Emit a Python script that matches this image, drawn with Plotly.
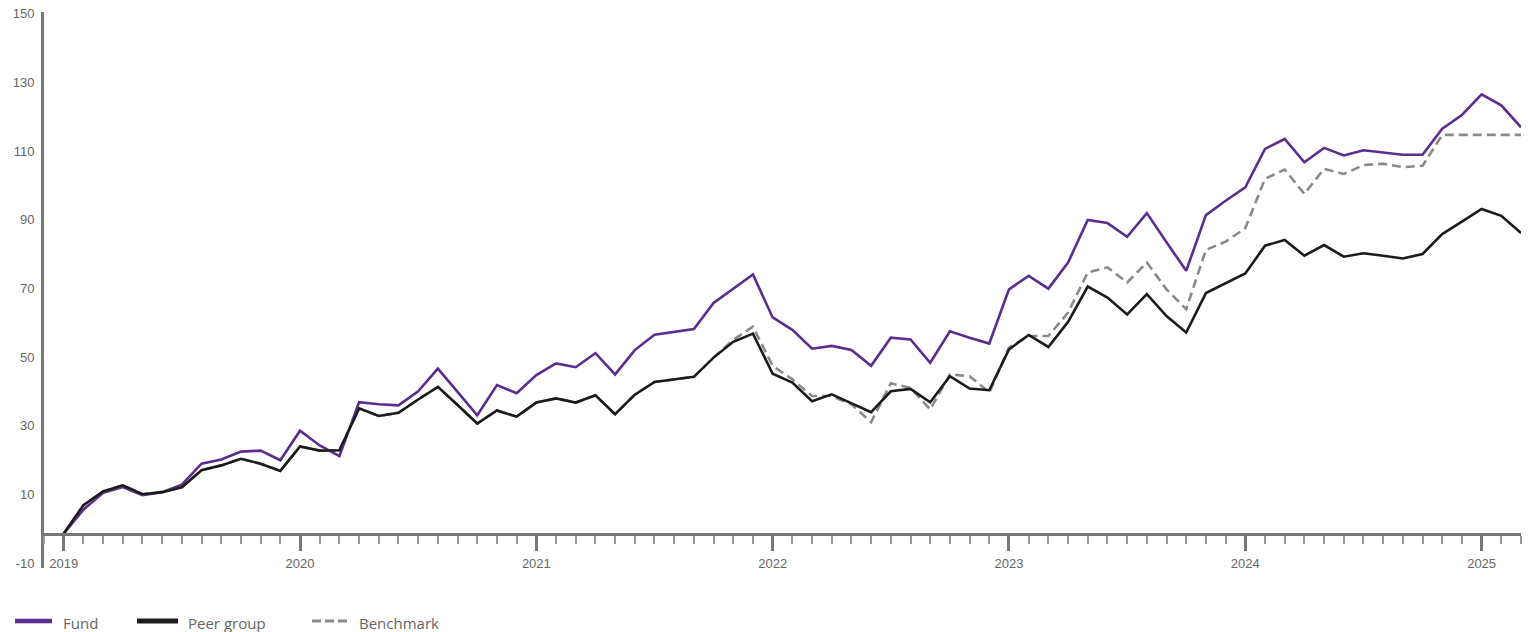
import plotly.graph_objects as go

# ---- data (monthly, Jan 2019 .. Mar 2025) ----
years = ["2019", "2020", "2021", "2022", "2023", "2024", "2025"]

fund = [0, 7.0, 11.9, 13.6, 11.2, 12.1, 14.3, 20.4, 21.6, 23.9, 24.2, 21.4,
        30.0, 25.7, 22.6, 38.3, 37.7, 37.4, 41.5, 48.1, 41.3, 34.5, 43.3, 40.9,
        46.2, 49.6, 48.5, 52.6, 46.4, 53.5, 58.0, 58.8, 59.6, 67.2, 71.4, 75.5,
        63.0, 59.4, 53.9, 54.7, 53.5, 48.9, 57.1, 56.6, 49.8, 59.0, 57.1, 55.4,
        71.2, 75.1, 71.4, 79.0, 91.4, 90.5, 86.5, 93.4, 84.9, 76.6, 92.8, 97.0,
        100.9, 112.1, 115.0, 108.2, 112.4, 110.2, 111.7, 111.1, 110.4, 110.4, 118.0, 122.0,
        128.0, 124.8, 118.4]

peer = [0, 8.3, 12.3, 14.1, 11.5, 12.1, 13.5, 18.5, 19.9, 21.8, 20.4, 18.3,
        25.4, 24.2, 24.3, 36.5, 34.3, 35.2, 39.1, 42.8, 37.5, 32.1, 35.9, 34.1,
        38.2, 39.4, 38.2, 40.3, 34.8, 40.5, 44.2, 45.0, 45.7, 51.3, 55.9, 58.3,
        46.6, 44.0, 38.6, 40.6, 38.0, 35.4, 41.5, 42.2, 38.3, 45.9, 42.3, 41.8,
        53.7, 57.9, 54.4, 61.7, 72.0, 68.8, 63.9, 69.8, 63.4, 58.6, 70.1, 73.0,
        75.8, 83.9, 85.6, 81.0, 84.1, 80.7, 81.7, 81.0, 80.2, 81.5, 87.3, 90.9,
        94.6, 92.6, 87.6]

benchmark = [0, 8.3, 12.3, 14.1, 11.5, 12.1, 13.5, 18.5, 19.9, 21.8, 20.4, 18.3,
             25.4, 24.2, 24.3, 36.5, 34.3, 35.2, 39.1, 42.8, 37.5, 32.1, 35.9, 34.1,
             38.2, 39.4, 38.2, 40.3, 34.8, 40.5, 44.2, 45.0, 45.7, 51.3, 56.5, 60.3,
             48.9, 45.0, 40.1, 40.1, 37.7, 32.5, 43.8, 42.5, 36.2, 46.4, 45.9, 41.1,
             54.2, 57.6, 57.6, 64.4, 76.1, 77.6, 73.2, 79.0, 71.2, 65.4, 82.7, 85.1,
             89.0, 103.4, 106.1, 99.0, 106.3, 104.8, 107.4, 107.8, 106.8, 107.2, 116.2, 116.2,
             116.2, 116.2, 116.2]

y_ticks = [-10, 10, 30, 50, 70, 90, 110, 130, 150]

# ---- styling ----
PURPLE = "#5b2d8e"
BLACK = "#1b1b1b"
GREY = "#8a8a8a"
AXIS = "#777777"
TXT = "#666666"

W, H = 1528, 632
ML, MR, MT, MB = 44, 7, 12, 64
PW, PH = W - ML - MR, H - MT - MB

x = list(range(len(fund)))
YMIN, YMAX = -10, 152

fig = go.Figure()
fig.add_trace(go.Scatter(x=x, y=fund, mode="lines", name="Fund",
                         line=dict(color=PURPLE, width=2.6), showlegend=False))
fig.add_trace(go.Scatter(x=x, y=benchmark, mode="lines", name="Benchmark",
                         line=dict(color=GREY, width=2.6, dash="9px,5px"), showlegend=False))
fig.add_trace(go.Scatter(x=x, y=peer, mode="lines", name="Peer group",
                         line=dict(color=BLACK, width=2.6), showlegend=False))

fig.update_layout(
    width=W, height=H,
    margin=dict(l=ML, r=MR, t=MT, b=MB, pad=0),
    paper_bgcolor="white", plot_bgcolor="white",
    font=dict(family="Liberation Sans, Arial, sans-serif", size=13, color=TXT),
    xaxis=dict(
        range=[-1, len(fund) - 1],
        anchor="free", position=(0 - YMIN) / (YMAX - YMIN),
        showgrid=False, zeroline=False,
        showline=True, linecolor=AXIS, linewidth=3,
        ticks="outside", tickmode="array",
        tickvals=[12 * k for k in range(len(years))], ticktext=years,
        ticklen=15, tickwidth=3, tickcolor=AXIS,
        ticklabelstandoff=2,
        tickfont=dict(size=13, color=TXT),
        minor=dict(tickmode="linear", tick0=0, dtick=1, ticks="outside",
                   ticklen=8, tickwidth=1.5, tickcolor="#9a9a9a", showgrid=False),
    ),
    yaxis=dict(
        range=[YMIN, YMAX],
        showgrid=False, zeroline=False,
        showline=True, linecolor=AXIS, linewidth=3,
        tickmode="array", tickvals=y_ticks, ticktext=[str(v) for v in y_ticks],
        ticks="", ticklabelstandoff=4, ticklabelshift=-5,
        tickfont=dict(size=13, color=TXT),
    ),
)

# ---- manual legend below the plot ----
def px(v):
    return (v - ML) / PW

def py(v):
    return (H - MB - v) / PH

legend_items = [
    ("Fund", PURPLE, "solid", 4.5, 15, 52, 61),
    ("Peer group", BLACK, "solid", 5, 137, 178, 186),
    ("Benchmark", GREY, "9px,4px", 3, 312, 348, 357),
]
for name, col, dash, wid, x0, x1, xt in legend_items:
    fig.add_shape(type="line", xref="paper", yref="paper",
                  x0=px(x0), x1=px(x1), y0=py(621), y1=py(621),
                  line=dict(color=col, width=wid, dash=dash))
    fig.add_annotation(xref="paper", yref="paper", x=px(xt), y=py(623),
                       text=name, showarrow=False, xanchor="left", yanchor="middle",
                       font=dict(family="Open Sans, Noto Sans, sans-serif", size=15, color=TXT))

fig.write_html("out.html", config={"displayModeBar": False},
               post_script="document.body.style.margin='0';document.body.style.overflow='hidden';")
